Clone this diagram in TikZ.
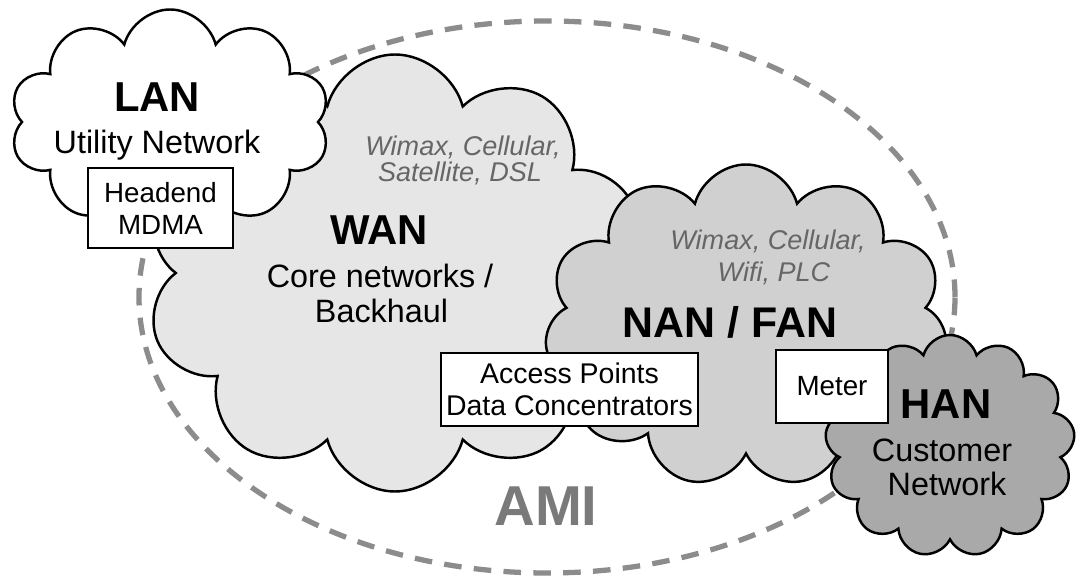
\documentclass[tikz,border=0pt]{standalone}
\usepackage{fontspec}
\setmainfont{Liberation Sans}
\usepackage{tikz}
\usetikzlibrary{shapes.symbols}
\definecolor{N1}{HTML}{E6E6E6}
\definecolor{N2}{HTML}{D0D0D0}
\definecolor{N3}{HTML}{A9A9A9}
\definecolor{T1}{HTML}{666666}
\definecolor{T2}{HTML}{7A7A7A}
\definecolor{D1}{HTML}{8C8C8C}

\begin{document}
\begin{tikzpicture}[
	netcloud/.style = {cloud, cloud ignores aspect, draw, line width=0.7pt, inner sep=0pt},
	infobox/.style = {draw, rectangle, fill=white, line width=0.6pt, align=center, inner sep=0pt, font=\fontsize{7.9}{9.1}\selectfont},
	title/.style = {anchor=base, font=\fontsize{11.9}{14}\selectfont\bfseries},
	subtitle/.style = {anchor=base, font=\fontsize{9.2}{11}\selectfont},
	tech/.style = {anchor=base, color=T1, font=\fontsize{7.7}{9}\selectfont\itshape}
]
  \useasboundingbox (0, 0) rectangle (10.82, 5.77);
  % AMI boundary
  \draw[D1, line width=1.5pt, dash pattern=on 5pt off 3.5pt] (5.47, 2.80) ellipse [x radius=4.08, y radius=2.76];

  % Clouds
  \node[netcloud, fill=N1, cloud puffs=10, minimum width=5cm, minimum height=4.37cm] at (3.95, 3.04) (wan) {};
  \node[netcloud, fill=white, cloud puffs=10, minimum width=3.2cm, minimum height=2.25cm] at (1.70, 4.55) (lan) {};
  \node[netcloud, fill=N2, cloud puffs=11, minimum width=4.03cm, minimum height=3.23cm] at (7.46, 2.51) (nan) {};
  \node[netcloud, fill=N3, cloud puffs=13, minimum width=2.5cm, minimum height=2.22cm] at (9.50, 1.31) (han) {};

  % Devices
  \node[infobox, minimum width=1.45cm, minimum height=0.80cm] at (1.605, 3.69) (headend) {Headend\\MDMA};
  \node[infobox, minimum width=2.57cm, minimum height=0.73cm, font=\fontsize{8.1}{9.1}\selectfont] at (5.695, 1.875) (ap) {Access Points\\Data Concentrators};
  \node[infobox, minimum width=1.12cm, minimum height=0.73cm] at (8.32, 1.905) (meter) {Meter};

  % Labels
  \node[title] at (1.57, 4.65) (lanname) {LAN};
  \node[subtitle] at (1.57, 4.23) (lansub) {Utility Network};
  \node[tech] at (4.63, 4.21) (wantech1) {Wimax, Cellular,};
  \node[tech] at (4.60, 3.95) (wantech2) {Satellite, DSL};
  \node[title] at (3.79, 3.32) (wanname) {WAN};
  \node[subtitle] at (3.80, 2.89) (wansub1) {Core networks /};
  \node[subtitle] at (3.815, 2.54) (wansub2) {Backhaul};
  \node[tech] at (7.68, 3.27) (nantech1) {Wimax, Cellular,};
  \node[tech] at (7.74, 2.95) (nantech2) {Wifi, PLC};
  \node[title, font=\fontsize{12.2}{14}\selectfont\bfseries] at (7.30, 2.39) (nanname) {NAN / FAN};
  \node[title] at (9.46, 1.59) (hanname) {HAN};
  \node[subtitle] at (9.42, 1.16) (hansub1) {Customer};
  \node[subtitle] at (9.47, 0.81) (hansub2) {Network};
  \node[title, color=T2, font=\fontsize{16}{18}\selectfont\bfseries] at (5.46, 0.52) (ami) {AMI};
\end{tikzpicture}
\end{document}
